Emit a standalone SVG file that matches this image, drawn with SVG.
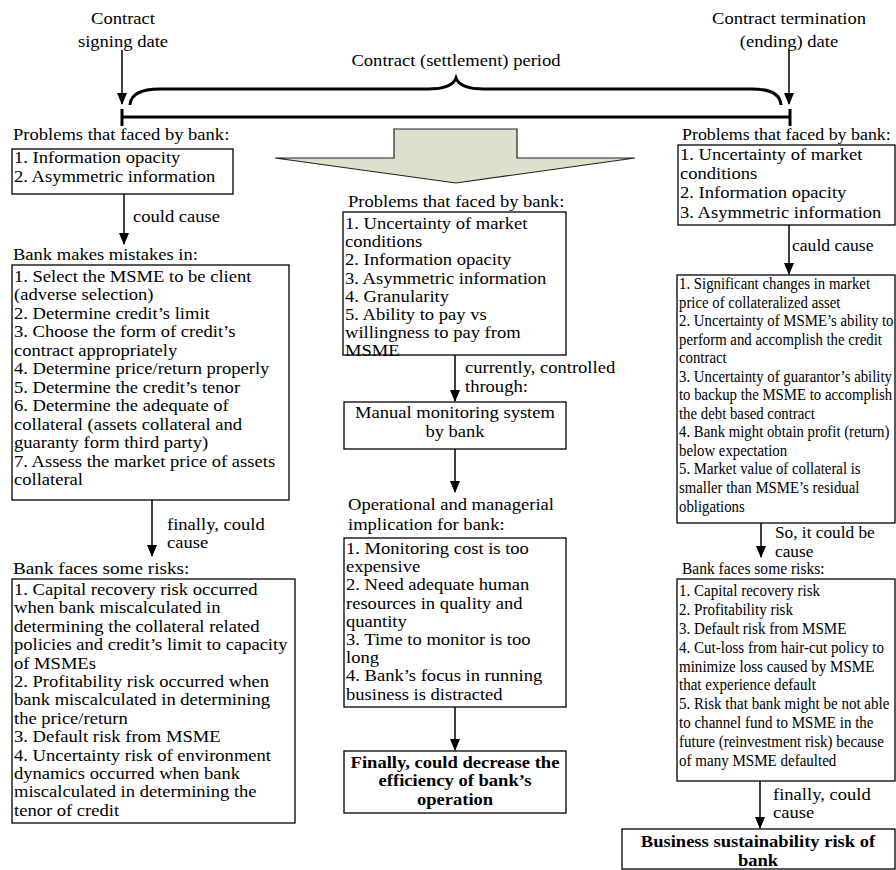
<svg xmlns="http://www.w3.org/2000/svg" width="896" height="870" viewBox="0 0 896 870">
<defs>
<style>
.t{font-family:"Liberation Serif","Times New Roman",serif;font-size:16px;fill:#000}
.b{font-weight:bold}
.m{text-anchor:middle}
.box{fill:#fff;stroke:#000;stroke-width:1.3}
.conn{stroke:#000;stroke-width:1.5;fill:none;marker-end:url(#ah)}
.tl{stroke:#000;stroke-width:3;fill:none}
</style>
<marker id="ah" viewBox="0 0 12 10" markerWidth="12" markerHeight="10" refX="11" refY="5" orient="auto" markerUnits="userSpaceOnUse">
<path d="M0,0 L12,5 L0,10 Z" fill="#000"/>
</marker>
</defs>
<rect width="896" height="870" fill="#fff"/>

<!-- Timeline header -->
<g id="timeline">
<text class="t m" transform="translate(123 0) scale(1.16 1)"><tspan x="0" y="24">Contract</tspan><tspan x="0" y="47">signing date</tspan></text>
<text class="t m" transform="translate(789 0) scale(1.16 1)"><tspan x="0" y="24">Contract termination</tspan><tspan x="0" y="47">(ending) date</tspan></text>
<text class="t m" transform="translate(456 0) scale(1.16 1)"><tspan x="0" y="66">Contract (settlement) period</tspan></text>
<path class="tl" d="M122,117 H790 M122,109 V126 M790,109 V126"/>
<path class="tl" stroke-width="2.5" d="M130,105 Q131,89 160,89 L428,89 Q452,89 456,78 Q460,89 484,89 L752,89 Q780,89 781,105"/>
</g>

<!-- Big arrow -->
<g id="big-arrow">
<polygon points="394,129 517,129 517,158 635,158 456,183 275,158 394,158" fill="#dde1cb" stroke="#222" stroke-width="1.2"/>
</g>

<!-- Left column -->
<g id="l-prob">
<text class="t" transform="translate(13 0) scale(1.16 1)"><tspan x="0" y="140">Problems that faced by bank:</tspan></text>
<rect class="box" x="12" y="149" width="221" height="45"/>
<text class="t" transform="translate(14 0) scale(1.16 1)"><tspan x="0" y="163">1. Information opacity</tspan><tspan x="0" y="182">2. Asymmetric information</tspan></text>
</g>
<g id="l-mistakes">
<text class="t" transform="translate(13 0) scale(1.16 1)"><tspan x="0" y="260">Bank makes mistakes in:</tspan></text>
<rect class="box" x="12" y="265" width="277" height="235"/>
<text class="t" transform="translate(14 0) scale(1.16 1)">
<tspan x="0" y="282">1. Select the MSME to be client</tspan>
<tspan x="0" y="300.5">(adverse selection)</tspan>
<tspan x="0" y="319">2. Determine credit’s limit</tspan>
<tspan x="0" y="337.5">3. Choose the form of credit’s</tspan>
<tspan x="0" y="356">contract appropriately</tspan>
<tspan x="0" y="374.5">4. Determine price/return properly</tspan>
<tspan x="0" y="393">5. Determine the credit’s tenor</tspan>
<tspan x="0" y="411.5">6. Determine the adequate of</tspan>
<tspan x="0" y="430">collateral (assets collateral and</tspan>
<tspan x="0" y="448.5">guaranty form third party)</tspan>
<tspan x="0" y="467">7. Assess the market price of assets</tspan>
<tspan x="0" y="485.5">collateral</tspan>
</text>
</g>
<g id="l-risks">
<text class="t" transform="translate(13 0) scale(1.2 1)"><tspan x="0" y="574">Bank faces some risks:</tspan></text>
<rect class="box" x="12" y="579" width="283" height="244"/>
<text class="t" transform="translate(14 0) scale(1.16 1)">
<tspan x="0" y="595">1. Capital recovery risk occurred</tspan>
<tspan x="0" y="613.4">when bank miscalculated in</tspan>
<tspan x="0" y="631.8">determining the collateral related</tspan>
<tspan x="0" y="650.2">policies and credit’s limit to capacity</tspan>
<tspan x="0" y="668.6">of MSMEs</tspan>
<tspan x="0" y="687">2. Profitability risk occurred when</tspan>
<tspan x="0" y="705.4">bank miscalculated in determining</tspan>
<tspan x="0" y="723.8">the price/return</tspan>
<tspan x="0" y="742.2">3. Default risk from MSME</tspan>
<tspan x="0" y="760.6">4. Uncertainty risk of environment</tspan>
<tspan x="0" y="779">dynamics occurred when bank</tspan>
<tspan x="0" y="797.4">miscalculated in determining the</tspan>
<tspan x="0" y="815.8">tenor of credit</tspan>
</text>
</g>

<!-- Middle column -->
<g id="m-prob">
<text class="t" transform="translate(348 0) scale(1.16 1)"><tspan x="0" y="207">Problems that faced by bank:</tspan></text>
<rect class="box" x="343" y="212" width="223" height="143"/>
<text class="t" transform="translate(345 0) scale(1.16 1)">
<tspan x="0" y="229">1. Uncertainty of market</tspan>
<tspan x="0" y="247.2">conditions</tspan>
<tspan x="0" y="265.4">2. Information opacity</tspan>
<tspan x="0" y="283.6">3. Asymmetric information</tspan>
<tspan x="0" y="301.8">4. Granularity</tspan>
<tspan x="0" y="320">5. Ability to pay vs</tspan>
<tspan x="0" y="338.2">willingness to pay from</tspan>
<tspan x="0" y="356.4">MSME</tspan>
</text>
</g>
<g id="m-manual">
<rect class="box" x="344" y="402" width="222" height="47"/>
<text class="t m" transform="translate(455 0) scale(1.16 1)"><tspan x="0" y="418">Manual monitoring system</tspan><tspan x="0" y="437">by bank</tspan></text>
</g>
<g id="m-impl">
<text class="t" transform="translate(348 0) scale(1.16 1)"><tspan x="0" y="510">Operational and managerial</tspan><tspan x="0" y="530">implication for bank:</tspan></text>
<rect class="box" x="344" y="538" width="222" height="169"/>
<text class="t" transform="translate(346 0) scale(1.16 1)">
<tspan x="0" y="554">1. Monitoring cost is too</tspan>
<tspan x="0" y="572.2">expensive</tspan>
<tspan x="0" y="590.4">2. Need adequate human</tspan>
<tspan x="0" y="608.6">resources in quality and</tspan>
<tspan x="0" y="626.8">quantity</tspan>
<tspan x="0" y="645">3. Time to monitor is too</tspan>
<tspan x="0" y="663.2">long</tspan>
<tspan x="0" y="681.4">4. Bank’s focus in running</tspan>
<tspan x="0" y="699.6">business is distracted</tspan>
</text>
</g>
<g id="m-final">
<rect class="box" x="344" y="751" width="222" height="62"/>
<text class="t b m" transform="translate(455 0) scale(1.16 1)"><tspan x="0" y="768">Finally, could decrease the</tspan><tspan x="0" y="786.5">efficiency of bank’s</tspan><tspan x="0" y="805">operation</tspan></text>
</g>

<!-- Right column -->
<g id="r-prob">
<text class="t" transform="translate(682 0) scale(1.12 1)"><tspan x="0" y="140">Problems that faced by bank:</tspan></text>
<rect class="box" x="678" y="145" width="217" height="80"/>
<text class="t" transform="translate(680 0) scale(1.16 1)">
<tspan x="0" y="160">1. Uncertainty of market</tspan>
<tspan x="0" y="179.2">conditions</tspan>
<tspan x="0" y="198.4">2. Information opacity</tspan>
<tspan x="0" y="217.6">3. Asymmetric information</tspan>
</text>
</g>
<g id="r-effects">
<rect class="box" x="677" y="275" width="218" height="248"/>
<text class="t" transform="translate(679 0) scale(0.925 1)">
<tspan x="0" y="289">1. Significant changes in market</tspan>
<tspan x="0" y="307.6">price of collateralized asset</tspan>
<tspan x="0" y="326.1">2. Uncertainty of MSME’s ability to</tspan>
<tspan x="0" y="344.7">perform and accomplish the credit</tspan>
<tspan x="0" y="363.2">contract</tspan>
<tspan x="0" y="381.8">3. Uncertainty of guarantor’s ability</tspan>
<tspan x="0" y="400.3">to backup the MSME to accomplish</tspan>
<tspan x="0" y="418.9">the debt based contract</tspan>
<tspan x="0" y="437.4">4. Bank might obtain profit (return)</tspan>
<tspan x="0" y="456">below expectation</tspan>
<tspan x="0" y="474.5">5. Market value of collateral is</tspan>
<tspan x="0" y="493.1">smaller than MSME’s residual</tspan>
<tspan x="0" y="511.6">obligations</tspan>
</text>
</g>
<g id="r-risks">
<text class="t" transform="translate(682 0) scale(0.97 1)"><tspan x="0" y="574">Bank faces some risks:</tspan></text>
<rect class="box" x="677" y="579" width="218" height="202"/>
<text class="t" transform="translate(679 0) scale(0.94 1)">
<tspan x="0" y="596">1. Capital recovery risk</tspan>
<tspan x="0" y="614.9">2. Profitability risk</tspan>
<tspan x="0" y="633.8">3. Default risk from MSME</tspan>
<tspan x="0" y="652.7">4. Cut-loss from hair-cut policy to</tspan>
<tspan x="0" y="671.6">minimize loss caused by MSME</tspan>
<tspan x="0" y="690.5">that experience default</tspan>
<tspan x="0" y="709.4">5. Risk that bank might be not able</tspan>
<tspan x="0" y="728.3">to channel fund to MSME in the</tspan>
<tspan x="0" y="747.2">future (reinvestment risk) because</tspan>
<tspan x="0" y="766.1">of many MSME defaulted</tspan>
</text>
</g>
<g id="r-final">
<rect class="box" x="622" y="829" width="273" height="40"/>
<text class="t b m" transform="translate(758 0) scale(1.16 1)"><tspan x="0" y="847">Business sustainability risk of</tspan><tspan x="0" y="866">bank</tspan></text>
</g>

<!-- Connectors -->
<g id="connectors">
<line class="conn" x1="122" y1="50" x2="122" y2="104"/>
<line class="conn" x1="789" y1="50" x2="789" y2="104"/>
<line class="conn" x1="124" y1="194" x2="124" y2="244"/>
<line class="conn" x1="152" y1="500" x2="152" y2="556"/>
<line class="conn" x1="455" y1="355" x2="455" y2="401"/>
<line class="conn" x1="455" y1="449" x2="455" y2="492"/>
<line class="conn" x1="455" y1="707" x2="455" y2="750"/>
<line class="conn" x1="789" y1="225" x2="789" y2="274"/>
<line class="conn" x1="761" y1="523" x2="761" y2="557"/>
<line class="conn" x1="760" y1="781" x2="760" y2="828"/>
<text class="t" transform="translate(133 0) scale(1.16 1)"><tspan x="0" y="222">could cause</tspan></text>
<text class="t" transform="translate(167 0) scale(1.16 1)"><tspan x="0" y="530">finally, could</tspan><tspan x="0" y="548">cause</tspan></text>
<text class="t" transform="translate(465 0) scale(1.16 1)"><tspan x="0" y="373">currently, controlled</tspan><tspan x="0" y="392">through:</tspan></text>
<text class="t" transform="translate(792 0) scale(1.1 1)"><tspan x="0" y="251">cauld cause</tspan></text>
<text class="t" transform="translate(775 0) scale(1.08 1)"><tspan x="0" y="538">So, it could be</tspan><tspan x="0" y="557">cause</tspan></text>
<text class="t" transform="translate(773 0) scale(1.16 1)"><tspan x="0" y="800">finally, could</tspan><tspan x="0" y="818">cause</tspan></text>
</g>
</svg>
